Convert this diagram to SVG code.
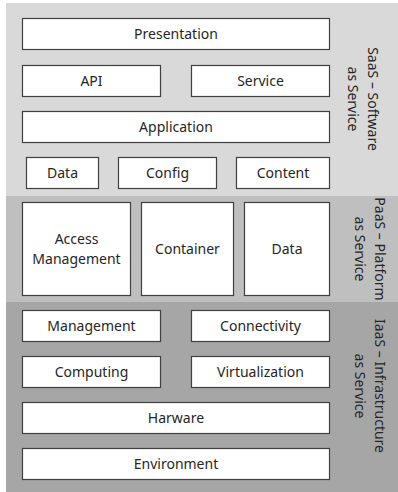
<svg xmlns="http://www.w3.org/2000/svg" width="398" height="492" viewBox="0 0 398 492">
  <style>
    .box { fill: #ffffff; stroke: #404040; stroke-width: 1.2; }
    .lbl { font-family: "Noto Sans", "Liberation Sans", sans-serif; font-size: 14px; fill: #262626; text-anchor: middle; }
    .side { font-family: "Noto Sans", "Liberation Sans", sans-serif; font-size: 14px; fill: #262626; text-anchor: middle; }
  </style>

  <!-- layer bands -->
  <g id="bands">
    <rect x="6" y="3" width="392" height="193" fill="#d9d9d9"/>
    <rect x="6" y="196" width="392" height="106" fill="#bfbfbf"/>
    <rect x="6" y="302" width="392" height="190" fill="#a6a6a6"/>
  </g>

  <!-- SaaS layer -->
  <g id="presentation"><rect class="box" x="22.5" y="18.5" width="307" height="31"/><text class="lbl" x="176" y="39">Presentation</text></g>
  <g id="api"><rect class="box" x="22.5" y="65.5" width="138" height="31"/><text class="lbl" x="91.5" y="86">API</text></g>
  <g id="service"><rect class="box" x="191.5" y="65.5" width="138" height="31"/><text class="lbl" x="260.5" y="86">Service</text></g>
  <g id="application"><rect class="box" x="22.5" y="111.5" width="307" height="31"/><text class="lbl" x="176" y="132">Application</text></g>
  <g id="saas-data"><rect class="box" x="26.5" y="157.5" width="72" height="31"/><text class="lbl" x="62.5" y="178">Data</text></g>
  <g id="config"><rect class="box" x="118.5" y="157.5" width="98" height="31"/><text class="lbl" x="167.5" y="178">Config</text></g>
  <g id="content"><rect class="box" x="236.5" y="157.5" width="93" height="31"/><text class="lbl" x="283" y="178">Content</text></g>

  <!-- PaaS layer -->
  <g id="access-management"><rect class="box" x="22.5" y="202.5" width="108" height="93"/><text class="lbl" x="76.5" y="244">Access</text><text class="lbl" x="76.5" y="264">Management</text></g>
  <g id="container"><rect class="box" x="141.5" y="202.5" width="92" height="93"/><text class="lbl" x="187.5" y="254">Container</text></g>
  <g id="paas-data"><rect class="box" x="244.5" y="202.5" width="85" height="93"/><text class="lbl" x="287" y="254">Data</text></g>

  <!-- IaaS layer -->
  <g id="management"><rect class="box" x="22.5" y="310.5" width="138" height="31"/><text class="lbl" x="91.5" y="331">Management</text></g>
  <g id="connectivity"><rect class="box" x="191.5" y="310.5" width="138" height="31"/><text class="lbl" x="260.5" y="331">Connectivity</text></g>
  <g id="computing"><rect class="box" x="22.5" y="356.5" width="138" height="31"/><text class="lbl" x="91.5" y="377">Computing</text></g>
  <g id="virtualization"><rect class="box" x="191.5" y="356.5" width="138" height="31"/><text class="lbl" x="260.5" y="377">Virtualization</text></g>
  <g id="harware"><rect class="box" x="22.5" y="402.5" width="307" height="31"/><text class="lbl" x="176" y="423">Harware</text></g>
  <g id="environment"><rect class="box" x="22.5" y="448.5" width="307" height="31"/><text class="lbl" x="176" y="469">Environment</text></g>

  <!-- layer captions, read top to bottom -->
  <g id="saas-caption" transform="translate(362 99) rotate(90)">
    <text class="side" x="0" y="-5.5">SaaS – Software</text>
    <text class="side" x="0" y="14.5">as Service</text>
  </g>
  <g id="paas-caption" transform="translate(370 249) rotate(90)">
    <text class="side" x="0" y="-5">PaaS – Platform</text>
    <text class="side" x="0" y="15">as Service</text>
  </g>
  <g id="iaas-caption" transform="translate(370 386) rotate(90)">
    <text class="side" x="0" y="-5">IaaS – Infrastructure</text>
    <text class="side" x="0" y="15">as Service</text>
  </g>
</svg>
